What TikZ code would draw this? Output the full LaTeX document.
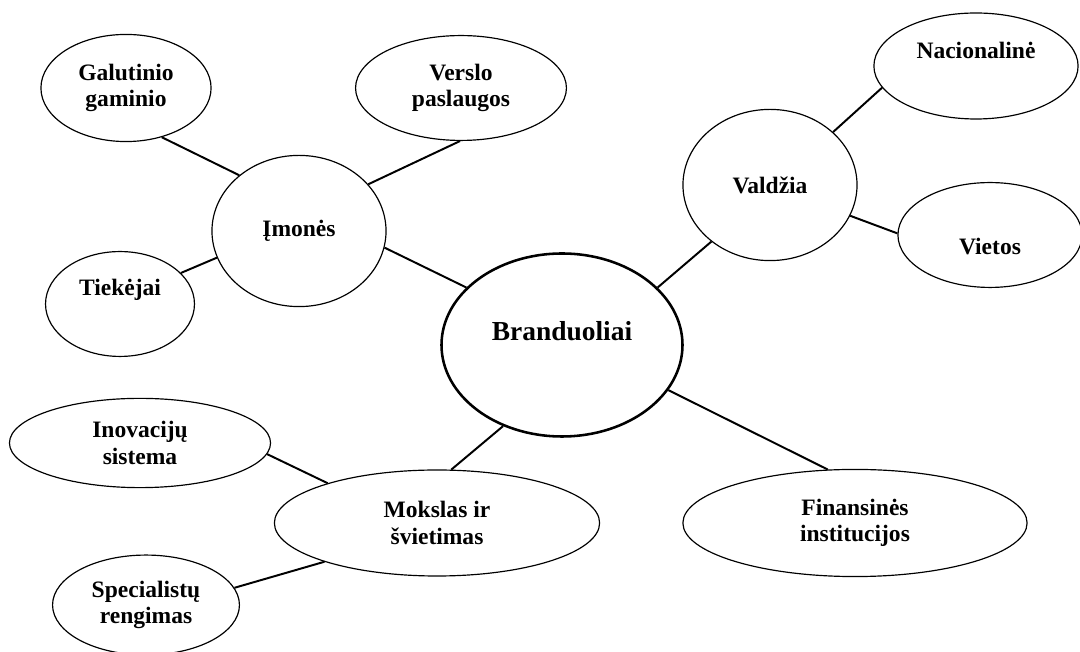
\documentclass[tikz,border=0pt]{standalone}
\usepackage{fontspec}
\setmainfont{Liberation Serif}
\usetikzlibrary{shapes.geometric}

\begin{document}
\begin{tikzpicture}[
    x=0.51pt, y=-0.51pt,
    bubble/.style={ellipse, draw=black, line width=0.6pt, fill=white, inner sep=0pt, align=center, font=\fontsize{12}{13.5}\selectfont\bfseries},
    core/.style={bubble, line width=1.3pt, font=\fontsize{14}{16}\selectfont\bfseries},
    link/.style={line width=1pt}
]
\useasboundingbox (0,0) rectangle (1080,652);
% centre
\node[core, minimum width=4.32cm, minimum height=3.28cm] (bran) at (562,345) {\raisebox{7pt}[\height][\depth]{Branduoliai}};
% left upper group
\node[bubble, minimum width=3.12cm, minimum height=2.71cm] (imo) at (299,231) {Įmonės};
\node[bubble, minimum width=3.05cm, minimum height=1.92cm] (gal) at (126,88) {Galutinio\\gaminio};
\node[bubble, minimum width=3.78cm, minimum height=1.88cm] (ver) at (461,88) {Verslo\\paslaugos};
\node[bubble, minimum width=2.67cm, minimum height=1.88cm] (tie) at (120,304) {\raisebox{7pt}[\height][\depth]{Tiekėjai}};
% right upper group
\node[bubble, minimum width=3.12cm, minimum height=2.71cm] (val) at (770,185) {Valdžia};
\node[bubble, minimum width=3.66cm, minimum height=1.90cm] (nac) at (976,66) {\raisebox{8pt}[\height][\depth]{Nacionalinė}};
\node[bubble, minimum width=3.30cm, minimum height=1.88cm] (vie) at (990,235) {\raisebox{-6pt}[\height][\depth]{Vietos}};
% lower group
\node[bubble, minimum width=5.83cm, minimum height=1.90cm] (mok) at (437,523) {Mokslas ir\\švietimas};
\node[bubble, minimum width=4.68cm, minimum height=1.60cm] (ino) at (140,443) {Inovacijų\\sistema};
\node[bubble, minimum width=3.35cm, minimum height=1.79cm] (spe) at (146,605) {Specialistų\\rengimas};
\node[bubble, minimum width=6.17cm, minimum height=1.92cm] (fin) at (855,523) {Finansinės\\institucijos};

\draw[link] (gal.-54) -- (imo.137);
\draw[link] (ver.-91) -- (imo.34);
\draw[link] (tie.27) -- (imo.-162);
\draw[link] (imo.-11) -- (bran.149);
\draw[link] (bran.31) -- (val.-136);
\draw[link] (val.40) -- (nac.-167);
\draw[link] (val.-21) -- (vie.179);
\draw[link] (bran.-126) -- (mok.75);
\draw[link] (ino.-5) -- (mok.160);
\draw[link] (spe.11) -- (mok.-161);
\draw[link] (bran.-23) -- (fin.117);
\end{tikzpicture}
\end{document}
